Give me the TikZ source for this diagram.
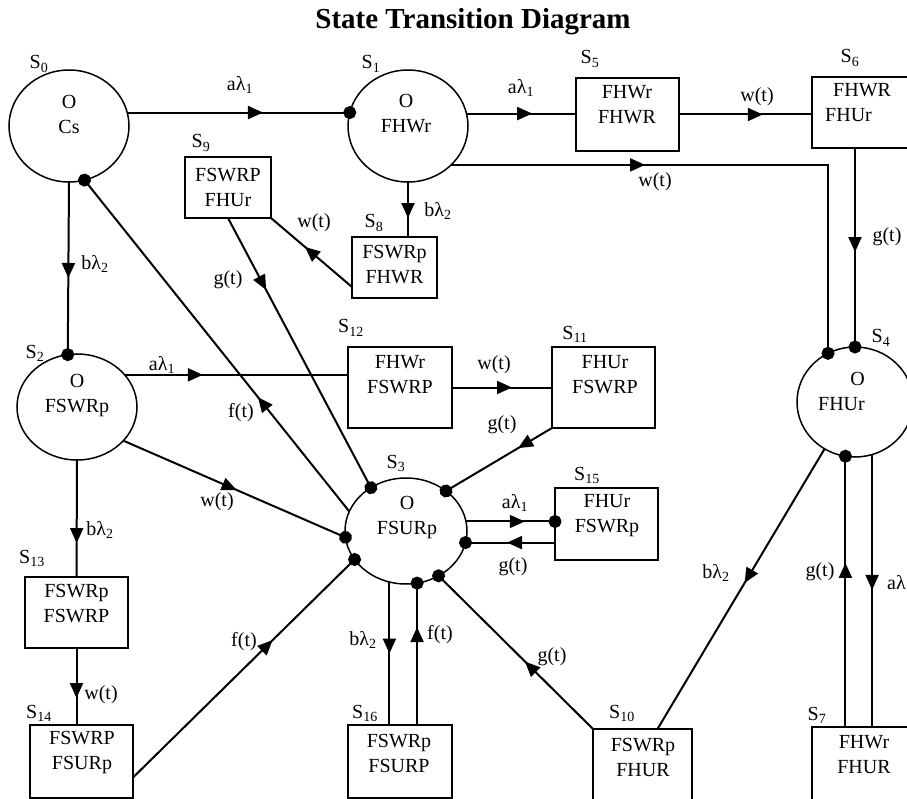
\documentclass[tikz,border=0pt]{standalone}
\usepackage{fontspec}
\setmainfont{Liberation Serif}
\usetikzlibrary{shapes.geometric,arrows.meta,decorations.markings,calc}
\newcommand\mfs{\fontsize{20}{25}\selectfont}
\begin{document}
\begin{tikzpicture}[x=1pt,y=-1pt,
  state/.style={draw,ellipse,line width=1.5pt,inner sep=0pt,outer sep=0pt},
  sbox/.style={draw,rectangle,line width=1.5pt,inner sep=0pt,outer sep=0pt},
  txt/.style={font=\mfs,align=center,inner sep=0pt},
  lbl/.style={font=\mfs,inner sep=0pt},
  slbl/.style={font=\mfs,inner sep=0pt,anchor=base},
  conn/.style={line width=2pt},
  mid/.style={postaction={decorate,decoration={markings,mark=at position #1 with {\arrow{Triangle[length=15pt,width=13pt]}}}}},
  dotend/.style={-{Circle[length=13pt]},shorten >=-6.5pt},
]
\clip (0,0) rectangle (907,799);

% title
\node[font=\fontsize{29}{30}\selectfont\bfseries,inner sep=0pt] (title) at (473,22) {State Transition Diagram};

% states (circles)
\node[state,minimum width=120pt,minimum height=112pt] (s0) at (69,126) {};
\node[state,minimum width=120pt,minimum height=112pt] (s1) at (408,126) {};
\node[state,minimum width=120pt,minimum height=106pt] (s2) at (77,407) {};
\node[state,minimum width=122pt,minimum height=106pt] (s3) at (406,531) {};
\node[state,minimum width=116pt,minimum height=110pt] (s4) at (855,402) {};

% states (boxes)
\node[sbox,minimum width=103pt,minimum height=73pt] (s5) at (627.5,114.5) {};
\node[sbox,minimum width=103pt,minimum height=71pt] (s6) at (863.5,112.5) {};
\node[sbox,minimum width=103pt,minimum height=73pt] (s7) at (863.5,763.5) {};
\node[sbox,minimum width=85pt,minimum height=61pt] (s8) at (394.5,267.5) {};
\node[sbox,minimum width=86pt,minimum height=61pt] (s9) at (228,187.5) {};
\node[sbox,minimum width=99pt,minimum height=73pt] (s10) at (642.5,765.5) {};
\node[sbox,minimum width=103pt,minimum height=81pt] (s11) at (603.5,387.5) {};
\node[sbox,minimum width=104pt,minimum height=81pt] (s12) at (400,387.5) {};
\node[sbox,minimum width=103pt,minimum height=71pt] (s13) at (76.5,612.5) {};
\node[sbox,minimum width=103pt,minimum height=73pt] (s14) at (81.5,761.5) {};
\node[sbox,minimum width=103pt,minimum height=72pt] (s15) at (606.5,524) {};
\node[sbox,minimum width=104pt,minimum height=73pt] (s16) at (400,761.5) {};

% texts inside states
\node[txt] (s0t) at (69,114) {O\\Cs};
\node[txt] (s1t) at (406,114) {O\\FHWr};
\node[txt] (s2t) at (77,396) {O\\FSWRp};
\node[txt] (s3t) at (407,518) {O\\FSURp};
\node[txt,align=right,anchor=east] (s4t) at (865,391) {O\\FHUr};
\node[txt] (s5t) at (627,105) {FHWr\\FHWR};
\node[txt,align=left,anchor=west] (s6t) at (825,103) {\hspace*{8pt}FHWR\\FHUr};
\node[txt] (s7t) at (864,755) {FHWr\\FHUR};
\node[txt] (s8t) at (394.5,265) {FSWRp\\FHWR};
\node[txt] (s9t) at (228,187) {FSWRP\\FHUr};
\node[txt] (s10t) at (643,757) {FSWRp\\FHUR};
\node[txt] (s11t) at (605,375) {FHUr\\FSWRP};
\node[txt] (s12t) at (400,375) {FHWr\\FSWRP};
\node[txt] (s13t) at (76.5,604) {FSWRp\\FSWRP};
\node[txt] (s14t) at (82,753) {FSWRP\\FSURp};
\node[txt] (s15t) at (607,516) {FHUr\\FSWRp};
\node[txt] (s16t) at (399,753) {FSWRp\\FSURP};

% state labels
\node[slbl] (n0) at (39,69) {S\textsubscript{0}};
\node[slbl] (n1) at (371,69) {S\textsubscript{1}};
\node[slbl] (n2) at (35,358) {S\textsubscript{2}};
\node[slbl] (n3) at (396,468) {S\textsubscript{3}};
\node[slbl] (n4) at (881,343) {S\textsubscript{4}};
\node[slbl] (n5) at (590,64) {S\textsubscript{5}};
\node[slbl] (n6) at (850,63) {S\textsubscript{6}};
\node[slbl] (n7) at (817,720) {S\textsubscript{7}};
\node[slbl] (n8) at (374,228) {S\textsubscript{8}};
\node[slbl] (n9) at (201,148) {S\textsubscript{9}};
\node[slbl] (n10) at (622,718) {S\textsubscript{10}};
\node[slbl] (n11) at (575,339) {S\textsubscript{11}};
\node[slbl] (n12) at (351,333) {S\textsubscript{12}};
\node[slbl] (n13) at (32,563) {S\textsubscript{13}};
\node[slbl] (n14) at (39,718) {S\textsubscript{14}};
\node[slbl] (n15) at (587,480) {S\textsubscript{15}};
\node[slbl] (n16) at (365,718) {S\textsubscript{16}};

% connectors
\draw[conn,mid=0.61,dotend] (s0.13) -- (s1.167);
\draw[conn,mid=0.556,dotend] (s0.south) -- (s2.100);
\draw[conn,mid=0.345,dotend] (s3.161) -- (s0.286);
\draw[conn,mid=0.267,dotend] (s9.south) -- (s3.129);
\draw[conn,mid=0.58] ($(s8.south west)+(0,-11)$) -- (s9.south east);
\draw[conn,mid=0.655] (s1.south) -- (s1.south |- s8.north);
\draw[conn,mid=0.6] (s1.12) -- (s1.12 -| s5.west);
\draw[conn,mid=0.63] (s5.east) -- (s5.east -| s6.west);
\draw[conn,mid=0.343,dotend] (s1.318) -| (s4.119);
\draw[conn,mid=0.523,dotend] (s4.north |- s6.south) -- (s4.north);
\draw[conn,mid=0.497] (s4.288) -- (s4.288 |- s7.north);
\draw[conn,mid=0.606,dotend] (s4.260 |- s7.north) -- (s4.260);
\draw[conn,mid=0.479] (s4.237) -- ($(s10.north)+(15,0)$);
\draw[conn,mid=0.44,dotend] (s10.north west) -- (s3.306);
\draw[conn,mid=0.66,dotend] (s3.9) -- (s3.9 -| s15.west);
\draw[conn,mid=0.536,dotend] (s3.349 -| s15.west) -- (s3.349);
\draw[conn,mid=0.32,dotend] (s11.south west) -- (s3.45);
\draw[conn,mid=0.6] (s12.east) -- (s11.west);
\draw[conn,mid=0.35] (s2.34) -- (s2.34 -| s12.west);
\draw[conn,mid=0.51,dotend] (s2.324) -- (s3.186);
\draw[conn,mid=0.71] (s2.south) -- (s13.north);
\draw[conn,mid=0.65] (s13.south) -- (s13.south |- s14.north);
\draw[conn,mid=0.63,dotend] ($(s14.east)+(0,16)$) -- (s3.209);
\draw[conn,mid=0.5] (s3.252) -- (s3.252 |- s16.north);
\draw[conn,mid=0.69,dotend] (s3.282 |- s16.north) -- (s3.282);

% connector labels
\node[lbl] (l1) at (240,85) {aλ\textsubscript{1}};
\node[lbl] (l2) at (95,264) {bλ\textsubscript{2}};
\node[lbl] (l3) at (241,413) {f(t)};
\node[lbl] (l4) at (228,280) {g(t)};
\node[lbl] (l5) at (314,223) {w(t)};
\node[lbl] (l6) at (438,211) {bλ\textsubscript{2}};
\node[lbl] (l7) at (521,88) {aλ\textsubscript{1}};
\node[lbl] (l8) at (757,97) {w(t)};
\node[lbl] (l9) at (655,182) {w(t)};
\node[lbl] (l10) at (887,237) {g(t)};
\node[lbl,anchor=west] (l11) at (887,584) {aλ\textsubscript{1}};
\node[lbl] (l12) at (820,572) {g(t)};
\node[lbl] (l13) at (716,573) {bλ\textsubscript{2}};
\node[lbl] (l14) at (552,657) {g(t)};
\node[lbl] (l15) at (515,503) {aλ\textsubscript{1}};
\node[lbl] (l16) at (513,567) {g(t)};
\node[lbl] (l17) at (502,425) {g(t)};
\node[lbl] (l18) at (494,365) {w(t)};
\node[lbl] (l19) at (162,365) {aλ\textsubscript{1}};
\node[lbl] (l20) at (217,502) {w(t)};
\node[lbl] (l21) at (100,530) {bλ\textsubscript{2}};
\node[lbl] (l22) at (101,695) {w(t)};
\node[lbl] (l23) at (244,642) {f(t)};
\node[lbl] (l24) at (363,640) {bλ\textsubscript{2}};
\node[lbl] (l25) at (440,635) {f(t)};
\end{tikzpicture}
\end{document}
